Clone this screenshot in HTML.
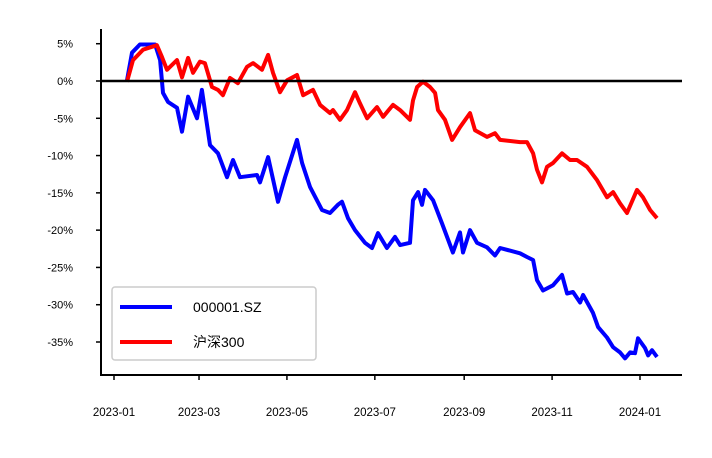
<!DOCTYPE html>
<html><head><meta charset="utf-8"><style>
body{margin:0;background:#fff;}
svg text{font-family:"Liberation Sans","Noto Sans CJK SC",sans-serif;}
</style></head><body>
<svg id="chart" width="712" height="453" viewBox="0 0 712 453" xmlns="http://www.w3.org/2000/svg">
<g id="ax"></g>
<g id="series"></g>
<g id="legend">
<rect x="112" y="287" width="204" height="73" rx="3" fill="#fff" stroke="#ccc" stroke-width="1.5"/>
<line x1="120" y1="307" x2="172" y2="307" stroke="#0000ff" stroke-width="4"/>
<text x="193" y="312" font-size="14">000001.SZ</text>
<line x1="120" y1="342" x2="172" y2="342" stroke="#ff0000" stroke-width="4"/>
<text x="193" y="347" font-size="14">沪深300</text>
</g>
</svg>
<script>
const xTickLabels=["2023-01","2023-03","2023-05","2023-07","2023-09","2023-11","2024-01"];
const xTickDays=[0,59,120,181,243,304,365];
const yTicks=[5,0,-5,-10,-15,-20,-25,-30,-35];
const blueDays=[9,12.5,18,28.5,32,34,37.5,43.7,47.2,51.4,57.6,61,66.6,72.2,78.4,82.6,87.4,99.2,101.3,106.9,113.8,118.7,127,130.5,136,144.3,149.9,155.4,158.2,162.4,167.2,174.2,179,183.2,189.4,195,198.5,205.4,207.5,211,213.7,215.8,221.4,227.6,235.2,240.1,242.2,247,251.9,258.8,264.4,267.9,281.7,286.6,290.8,293.5,297.7,304.6,310.9,314.4,318.5,323.4,325.5,332.4,335.9,342.1,346.3,351.1,354.6,358.1,361.5,363.6,368.5,370.6,373.3,376.8];
const blueVals=[0.1,3.8,4.9,4.9,2.8,-1.6,-2.8,-3.6,-6.8,-2.1,-5.0,-1.2,-8.6,-9.7,-12.9,-10.6,-12.9,-12.6,-13.6,-10.2,-16.2,-12.9,-7.9,-11.0,-14.2,-17.3,-17.7,-16.6,-16.2,-18.4,-20.0,-21.7,-22.4,-20.4,-22.4,-20.9,-22.0,-21.7,-16.0,-14.9,-16.6,-14.6,-16.0,-19.1,-23.0,-20.3,-23.0,-20.0,-21.7,-22.3,-23.4,-22.4,-23.1,-23.6,-24.0,-26.7,-28.1,-27.4,-26.0,-28.5,-28.3,-29.7,-28.7,-31.1,-33.0,-34.4,-35.7,-36.4,-37.2,-36.4,-36.5,-34.5,-35.8,-36.8,-36.1,-37.0];
const redDays=[9,13.2,20.1,29.8,33.3,36.8,43.7,47.2,51.4,54.8,59.7,63.1,68,72.2,75.6,80.5,86,92.3,96.5,102.7,106.9,110.3,115.2,120.1,127,131.2,138.1,143,149.9,152,156.8,161.7,167.2,170.7,175.6,182.5,186.7,193.6,198.5,205.4,207.5,210.3,214.4,219.3,222.8,224.8,229.7,234.6,240.1,247,250.5,258.8,264.4,267.9,281.7,286.6,290.8,293.5,297,300.5,304.6,310.9,316.4,321.3,328.2,335.2,342.1,346.3,351.1,356,362.9,367.1,372,376.8];
const redVals=[-0.1,2.8,4.2,4.8,3.2,1.5,2.8,0.5,3.1,1.1,2.6,2.4,-0.8,-1.2,-1.9,0.4,-0.3,1.9,2.4,1.5,3.5,1.1,-1.5,0.1,0.8,-1.9,-1.2,-3.2,-4.3,-3.9,-5.2,-3.9,-1.5,-3.0,-5.0,-3.5,-4.8,-3.2,-3.9,-5.2,-2.6,-0.8,-0.1,-0.8,-1.6,-3.9,-5.2,-7.9,-6.2,-4.3,-6.6,-7.5,-7.0,-7.9,-8.2,-8.2,-9.7,-11.9,-13.6,-11.5,-11.0,-9.7,-10.6,-10.6,-11.5,-13.3,-15.6,-14.9,-16.4,-17.7,-14.6,-15.6,-17.3,-18.4];

const NS="http://www.w3.org/2000/svg";
const X=d=>114+d*(640-114)/365;
const Y=v=>81-v*(261/35);
const ax=document.getElementById('ax');
function mk(tag,attrs,parent){const e=document.createElementNS(NS,tag);for(const k in attrs)e.setAttribute(k,attrs[k]);parent.appendChild(e);return e;}

yTicks.forEach((v,i)=>{
  const t=mk('line',{x1:96,x2:101,y1:Y(v),y2:Y(v),stroke:'#000','stroke-width':1.5},ax);
  
  
  const l=mk('text',{x:73,y:Y(v)+4,'font-size':11,'text-anchor':'end'},ax);
  l.textContent=v+'%';
  
  
});
xTickDays.forEach((d,i)=>{
  const t=mk('line',{x1:X(d),x2:X(d),y1:375,y2:380,stroke:'#000','stroke-width':1.5},ax);
  
  
  const l=mk('text',{x:X(d),y:416,'font-size':11.5,'text-anchor':'middle'},ax);
  l.textContent=xTickLabels[i];
  
  
});
const ls=mk('line',{x1:101,x2:101,y1:29,y2:376,stroke:'#000','stroke-width':2},ax);


const bs=mk('line',{x1:100,x2:682,y1:375,y2:375,stroke:'#000','stroke-width':2},ax);



const sg=document.getElementById('series');
function pts(ds,vs){return ds.map((d,i)=>X(d).toFixed(1)+','+Y(vs[i]).toFixed(1)).join(' ');}
const pb=mk('polyline',{points:pts(blueDays,blueVals),fill:'none',stroke:'#0000ff','stroke-width':4,'stroke-linejoin':'round'},sg);


const pr=mk('polyline',{points:pts(redDays,redVals),fill:'none',stroke:'#ff0000','stroke-width':4,'stroke-linejoin':'round'},sg);


const z=mk('line',{x1:101,x2:682,y1:Y(0),y2:Y(0),stroke:'#000','stroke-width':2.5},sg);


</script>
</body></html>
